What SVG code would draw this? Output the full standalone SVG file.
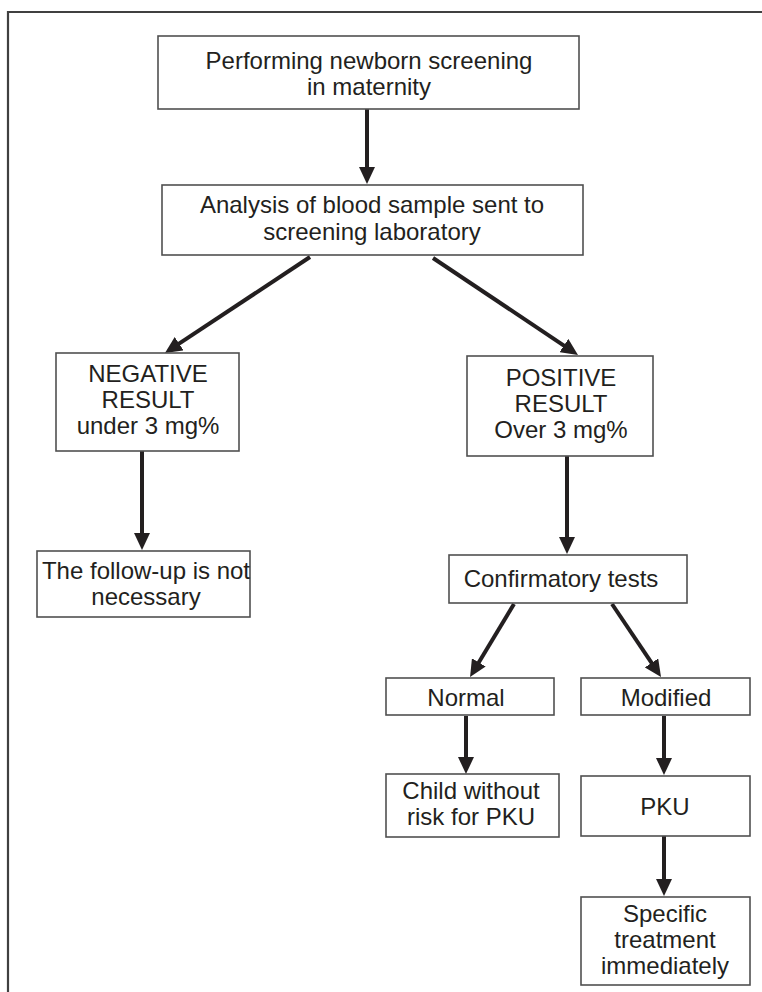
<svg xmlns="http://www.w3.org/2000/svg" width="762" height="992" viewBox="0 0 762 992">
<style>
.box{fill:#fff;stroke:#505050;stroke-width:1.6}
.t{font-family:"Liberation Sans",Arial,Helvetica,sans-serif;font-size:24px;fill:#231f20;text-anchor:middle}
.c{stroke:#231f20;stroke-width:4;fill:none}
.frame{stroke:#404040;stroke-width:2.2;fill:none}
</style>
<defs>
<marker id="ah" markerUnits="userSpaceOnUse" viewBox="0 -8 17 16" refX="1" refY="0" markerWidth="17" markerHeight="16" orient="auto">
<path d="M0,-8 L17,0 L0,8 z" fill="#231f20"/>
</marker>
</defs>
<path class="frame" d="M8,992 V12 H762"/>
<g id="connectors">
<line class="c" x1="367" y1="109" x2="367" y2="168" marker-end="url(#ah)"/>
<line class="c" x1="310" y1="257" x2="178.3" y2="344.2" marker-end="url(#ah)"/>
<line class="c" x1="433" y1="258" x2="564.7" y2="346.1" marker-end="url(#ah)"/>
<line class="c" x1="142" y1="451" x2="142" y2="534" marker-end="url(#ah)"/>
<line class="c" x1="567" y1="456" x2="567" y2="538" marker-end="url(#ah)"/>
<line class="c" x1="514" y1="604" x2="478.3" y2="663.3" marker-end="url(#ah)"/>
<line class="c" x1="612" y1="604" x2="652.1" y2="663.7" marker-end="url(#ah)"/>
<line class="c" x1="466" y1="716" x2="466" y2="758" marker-end="url(#ah)"/>
<line class="c" x1="664" y1="716" x2="664" y2="759" marker-end="url(#ah)"/>
<line class="c" x1="664" y1="836" x2="664" y2="880" marker-end="url(#ah)"/>
</g>
<g id="n1"><rect class="box" x="158" y="36" width="421" height="73"/>
<text class="t" x="369" y="69">Performing newborn screening</text>
<text class="t" x="369" y="95">in maternity</text></g>
<g id="n2"><rect class="box" x="162" y="185" width="421" height="70"/>
<text class="t" x="372" y="213">Analysis of blood sample sent to</text>
<text class="t" x="372" y="240">screening laboratory</text></g>
<g id="n3"><rect class="box" x="56" y="353" width="183" height="98"/>
<text class="t" x="148" y="382">NEGATIVE</text>
<text class="t" x="148" y="408">RESULT</text>
<text class="t" x="148" y="434">under 3 mg%</text></g>
<g id="n4"><rect class="box" x="467" y="356" width="186" height="100"/>
<text class="t" x="561" y="386">POSITIVE</text>
<text class="t" x="561" y="412">RESULT</text>
<text class="t" x="561" y="438">Over 3 mg%</text></g>
<g id="n5"><rect class="box" x="37" y="551" width="213" height="66"/>
<text class="t" x="146" y="579">The follow-up is not</text>
<text class="t" x="146" y="605">necessary</text></g>
<g id="n6"><rect class="box" x="449" y="555" width="238" height="48"/>
<text class="t" x="561" y="587">Confirmatory tests</text></g>
<g id="n7"><rect class="box" x="386" y="678" width="168" height="37"/>
<text class="t" x="466" y="706">Normal</text></g>
<g id="n8"><rect class="box" x="581" y="678" width="169" height="37"/>
<text class="t" x="666" y="706">Modified</text></g>
<g id="n9"><rect class="box" x="386" y="774" width="173" height="63"/>
<text class="t" x="471" y="799">Child without</text>
<text class="t" x="471" y="825">risk for PKU</text></g>
<g id="n10"><rect class="box" x="581" y="776" width="169" height="60"/>
<text class="t" x="665" y="815">PKU</text></g>
<g id="n11"><rect class="box" x="581" y="897" width="169" height="88"/>
<text class="t" x="665" y="922">Specific</text>
<text class="t" x="665" y="948">treatment</text>
<text class="t" x="665" y="974">immediately</text></g>
</svg>
